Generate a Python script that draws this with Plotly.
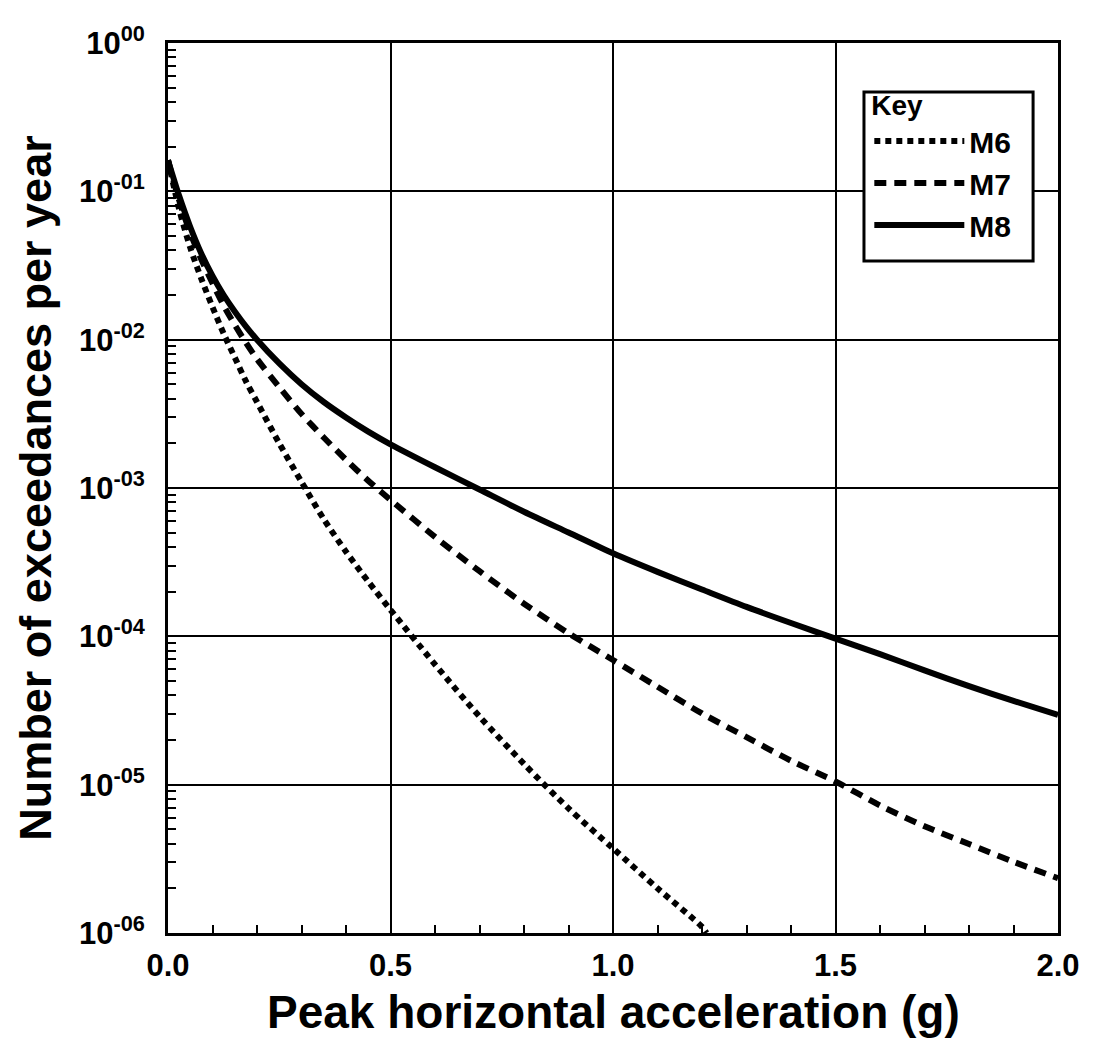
import plotly.graph_objects as go

# Peak horizontal acceleration (g) and annual exceedance rates
pga_m6 = [0, 0.025, 0.05, 0.075, 0.1, 0.125, 0.15, 0.175, 0.2, 0.25, 0.3, 0.35, 0.4, 0.45, 0.5,
          0.6, 0.7, 0.8, 0.9, 1.0, 1.1, 1.2, 1.21]
rate_m6 = [0.162, 0.0759, 0.0417, 0.0257, 0.0166, 0.0110, 0.00759, 0.00525, 0.00380, 0.00200,
           0.00110, 0.000617, 0.000372, 0.000234, 0.000151, 6.46e-5, 2.88e-5, 1.38e-5, 6.92e-6,
           3.72e-6, 2.00e-6, 1.10e-6, 1.0e-6]

pga_m7 = [0, 0.025, 0.05, 0.075, 0.1, 0.125, 0.15, 0.175, 0.2, 0.25, 0.3, 0.35, 0.4, 0.45, 0.5,
          0.6, 0.7, 0.8, 0.9, 1.0, 1.1, 1.2, 1.3, 1.4, 1.5, 1.6, 1.7, 1.8, 1.9, 2.0]
rate_m7 = [0.162, 0.0871, 0.0525, 0.0347, 0.0240, 0.0170, 0.0126, 0.00955, 0.00741, 0.00479,
           0.00316, 0.00219, 0.00155, 0.00112, 0.000832, 0.000468, 0.000275, 0.000166, 0.000105,
           6.92e-5, 4.57e-5, 3.02e-5, 2.09e-5, 1.45e-5, 1.05e-5, 7.24e-6, 5.25e-6, 3.98e-6,
           3.02e-6, 2.34e-6]

pga_m8 = [0, 0.025, 0.05, 0.075, 0.1, 0.125, 0.15, 0.175, 0.2, 0.25, 0.3, 0.35, 0.4, 0.45, 0.5,
          0.6, 0.7, 0.8, 0.9, 1.0, 1.1, 1.2, 1.3, 1.4, 1.5, 1.6, 1.7, 1.8, 1.9, 2.0]
rate_m8 = [0.162, 0.0933, 0.0575, 0.0380, 0.0269, 0.0200, 0.0155, 0.0123, 0.0100, 0.00692,
           0.00501, 0.00380, 0.00299, 0.00240, 0.00197, 0.00138, 0.000977, 0.000692, 0.000501,
           0.000363, 0.000272, 0.000207, 0.000158, 0.000123, 9.66e-5, 7.59e-5, 5.89e-5, 4.62e-5,
           3.67e-5, 2.95e-5]

x_tickvals = [0.0, 0.5, 1.0, 1.5, 2.0]
x_ticktext = ["<b>0.0</b>", "<b>0.5</b>", "<b>1.0</b>", "<b>1.5</b>", "<b>2.0</b>"]
y_tickvals = [1, 1e-1, 1e-2, 1e-3, 1e-4, 1e-5, 1e-6]
y_ticktext = ["<b>10<sup>00</sup></b>", "<b>10<sup>-01</sup></b>", "<b>10<sup>-02</sup></b>",
              "<b>10<sup>-03</sup></b>", "<b>10<sup>-04</sup></b>", "<b>10<sup>-05</sup></b>",
              "<b>10<sup>-06</sup></b>"]
x_title = "<b>Peak horizontal acceleration (g)</b>"
y_title = "<b>Number of exceedances per year</b>"

FONT = "Liberation Sans, Arial, sans-serif"

fig = go.Figure()
fig.add_trace(go.Scatter(x=pga_m6, y=rate_m6, mode="lines", name="<b>M6</b>",
                         line=dict(color="black", width=6, dash="6px,5px",
                                   shape="spline", smoothing=0.8)))
fig.add_trace(go.Scatter(x=pga_m7, y=rate_m7, mode="lines", name="<b>M7</b>",
                         line=dict(color="black", width=6, dash="12px,8px",
                                   shape="spline", smoothing=0.8)))
fig.add_trace(go.Scatter(x=pga_m8, y=rate_m8, mode="lines", name="<b>M8</b>",
                         line=dict(color="black", width=6, shape="spline", smoothing=0.8)))

minor_y = [k * 10.0 ** e for e in range(-6, 0) for k in range(2, 10)]

# legend frame (decoration)
fig.add_shape(type="rect", xref="paper", yref="paper",
              x0=0.782, x1=0.972, y0=0.755, y1=0.945,
              line=dict(color="black", width=3), fillcolor="white", layer="above")

# x-axis title
fig.add_annotation(text=x_title, xref="paper", yref="paper", x=0.5, y=-0.089,
                   xanchor="center", yanchor="middle", showarrow=False,
                   font=dict(family=FONT, size=46, color="black"))

fig.update_layout(
    width=1098, height=1054,
    margin=dict(l=168, r=40, t=43, b=121),
    paper_bgcolor="white", plot_bgcolor="white",
    font=dict(family=FONT, color="black"),
    showlegend=True,
    legend=dict(
        x=0.788, y=0.960, xanchor="left", yanchor="top",
        bgcolor="rgba(0,0,0,0)", borderwidth=0,
        font=dict(family=FONT, size=30, color="black"),
        title=dict(text="<b>Key</b>", font=dict(family=FONT, size=28, color="black")),
        itemwidth=90, tracegroupgap=0,
    ),
    xaxis=dict(
        range=[0, 2.0], tickvals=x_tickvals, ticktext=x_ticktext,
        tickfont=dict(family=FONT, size=31, color="black"),
        ticks="inside", ticklen=8, tickwidth=2, tickcolor="black",
        ticklabelstandoff=3,
        showline=True, linecolor="black", linewidth=3, mirror=True,
        showgrid=True, gridcolor="black", gridwidth=1.5,
        zeroline=False,
        minor=dict(dtick=0.1, tick0=0, ticks="inside", ticklen=8, tickwidth=1.5,
                   tickcolor="black", showgrid=False),
    ),
    yaxis=dict(
        type="log", range=[-6, 0], tickvals=y_tickvals, ticktext=y_ticktext,
        tickfont=dict(family=FONT, size=31, color="black"),
        ticks="inside", ticklen=8, tickwidth=2, tickcolor="black",
        ticklabelstandoff=14,
        showline=True, linecolor="black", linewidth=3, mirror=True,
        showgrid=True, gridcolor="black", gridwidth=1.5,
        zeroline=False,
        minor=dict(tickvals=minor_y, ticks="inside", ticklen=8, tickwidth=1.5,
                   tickcolor="black", showgrid=False),
        title=dict(text=y_title,
                   font=dict(family=FONT, size=45, color="black"), standoff=14),
    ),
)

fig.write_html("out.html")
